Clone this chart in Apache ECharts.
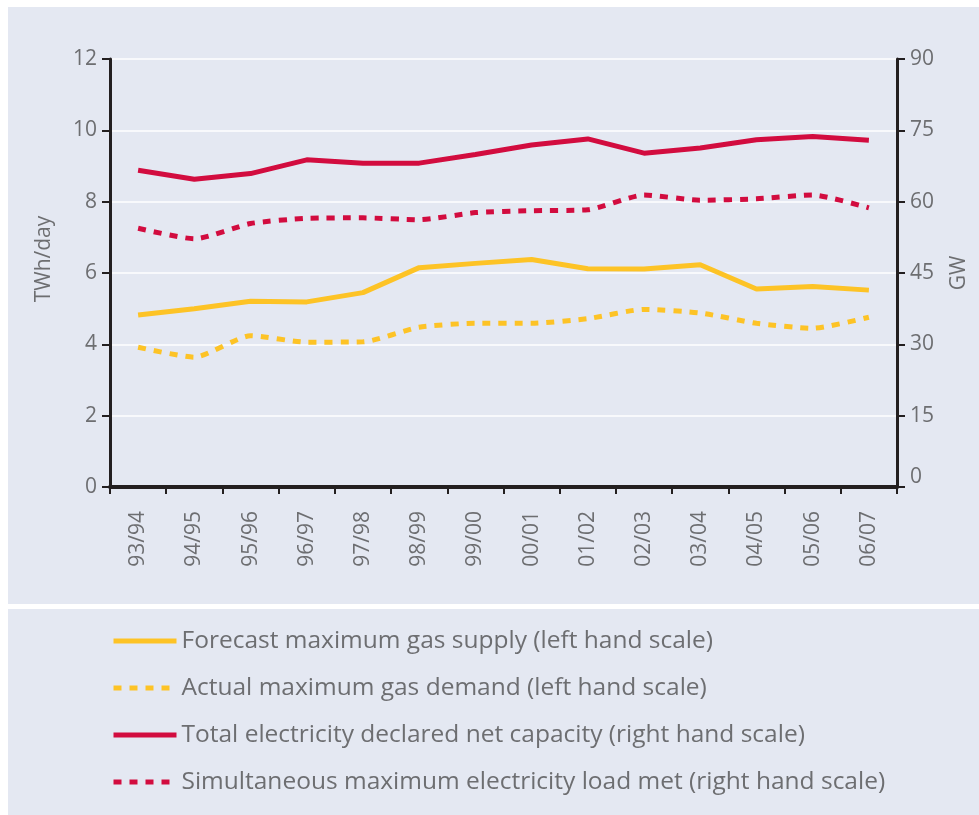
<!DOCTYPE html>
<html>
<head>
<meta charset="utf-8">
<title>Gas and electricity capacity vs peak demand</title>
<script src="https://cdn.jsdelivr.net/npm/echarts@6/dist/echarts.min.js"></script>
<style>
  html, body { margin: 0; padding: 0; background: #ffffff; }
  #chart { width: 979px; height: 815px; }
</style>
</head>
<body>
<div id="chart"></div>
<script>
// Winter seasons
const seasons = ['93/94','94/95','95/96','96/97','97/98','98/99','99/00','00/01','01/02','02/03','03/04','04/05','05/06','06/07'];

// Gas, TWh/day (left scale)
const gasSupplyForecast = [4.82, 5.00, 5.21, 5.19, 5.45, 6.15, 6.27, 6.38, 6.12, 6.11, 6.23, 5.55, 5.62, 5.52];
const gasDemandActual   = [3.92, 3.64, 4.24, 4.06, 4.07, 4.48, 4.59, 4.59, 4.72, 4.98, 4.88, 4.59, 4.45, 4.76];

// Electricity, GW (right scale)
const elecDeclaredCapacity = [66.6, 64.7, 65.9, 68.8, 68.1, 68.1, 69.9, 71.9, 73.2, 70.2, 71.3, 73.0, 73.7, 72.9];
const elecMaxLoadMet       = [54.4, 52.2, 55.4, 56.5, 56.6, 56.2, 57.7, 58.1, 58.3, 61.4, 60.3, 60.6, 61.4, 58.7];

const seriesNames = [
  'Forecast maximum gas supply (left hand scale)',
  'Actual maximum gas demand (left hand scale)',
  'Total electricity declared net capacity (right hand scale)',
  'Simultaneous maximum electricity load met (right hand scale)'
];

const PANEL = '#e4e8f2';
const AXIS = '#231f20';
const TEXT = '#6d6e71';
const GOLD = '#fdc326';
const RED = '#d20c3f';
const FONT = '"Open Sans", "Liberation Sans", sans-serif';

const chart = echarts.init(document.getElementById('chart'), null, { renderer: 'canvas' });

const labelStyle = { color: TEXT, fontSize: 21, fontFamily: FONT };

chart.setOption({
  backgroundColor: '#ffffff',
  animation: false,
  graphic: [
    { type: 'rect', z: -10, shape: { x: 8, y: 7, width: 971, height: 597 }, style: { fill: PANEL } },
    { type: 'rect', z: -10, shape: { x: 8, y: 609, width: 971, height: 206 }, style: { fill: PANEL } }
  ],
  grid: { left: 110, right: 82, top: 59, bottom: 328, containLabel: false },
  legend: {
    orient: 'vertical',
    left: 111,
    top: 624,
    padding: 0,
    itemWidth: 63,
    itemHeight: 14,
    itemGap: 13,
    selectedMode: false,
    data: seriesNames,
    lineStyle: { width: 5 },
    itemStyle: { opacity: 0 },
    textStyle: { color: TEXT, fontSize: 24.5, fontFamily: FONT, lineHeight: 30, padding: [4, 0, 0, 0] }
  },
  xAxis: {
    type: 'category',
    data: seasons,
    boundaryGap: true,
    axisLine: { lineStyle: { color: AXIS, width: 4 } },
    axisTick: { show: true, length: 7, lineStyle: { color: AXIS, width: 2 } },
    axisLabel: Object.assign({ rotate: 90, margin: 24, interval: 0 }, labelStyle),
    splitLine: { show: false }
  },
  yAxis: [
    {
      type: 'value',
      min: 0, max: 12, interval: 2,
      name: 'TWh/day',
      nameLocation: 'middle',
      nameGap: 55,
      nameTextStyle: { color: TEXT, fontSize: 21, fontFamily: FONT, padding: [0, 0, 0, 28] },
      axisLine: { show: true, lineStyle: { color: AXIS, width: 3 } },
      axisTick: { show: true, length: 8, lineStyle: { color: AXIS, width: 2 } },
      axisLabel: Object.assign({ margin: 13 }, labelStyle),
      splitLine: { show: true, lineStyle: { color: '#ffffff', width: 1.5 } }
    },
    {
      type: 'value',
      position: 'right',
      min: 0, max: 90, interval: 15,
      name: 'GW',
      nameLocation: 'middle',
      nameGap: 52,
      nameRotate: 90,
      nameTextStyle: { color: TEXT, fontSize: 21, fontFamily: FONT },
      axisLine: { show: true, lineStyle: { color: AXIS, width: 3 } },
      axisTick: { show: true, length: 8, lineStyle: { color: AXIS, width: 2 } },
      axisLabel: Object.assign({
        margin: 13,
        formatter: v => (v === 0 ? '{z|0}' : String(v)),
        rich: { z: { color: TEXT, fontSize: 21, fontFamily: FONT, padding: [0, 0, 20, 0] } }
      }, labelStyle),
      splitLine: { show: false }
    }
  ],
  series: [
    {
      name: seriesNames[0], type: 'line', yAxisIndex: 0, data: gasSupplyForecast,
      symbol: 'none', lineStyle: { color: GOLD, width: 5 }, itemStyle: { color: GOLD }, z: 3
    },
    {
      name: seriesNames[1], type: 'line', yAxisIndex: 0, data: gasDemandActual,
      symbol: 'none', smooth: 0.2, lineStyle: { color: GOLD, width: 5, type: [8, 8] }, itemStyle: { color: GOLD }, z: 3
    },
    {
      name: seriesNames[2], type: 'line', yAxisIndex: 1, data: elecDeclaredCapacity,
      symbol: 'none', lineStyle: { color: RED, width: 5 }, itemStyle: { color: RED }, z: 3
    },
    {
      name: seriesNames[3], type: 'line', yAxisIndex: 1, data: elecMaxLoadMet,
      symbol: 'none', smooth: 0.2, lineStyle: { color: RED, width: 5, type: [8, 8] }, itemStyle: { color: RED }, z: 3
    }
  ]
});
</script>
</body>
</html>
